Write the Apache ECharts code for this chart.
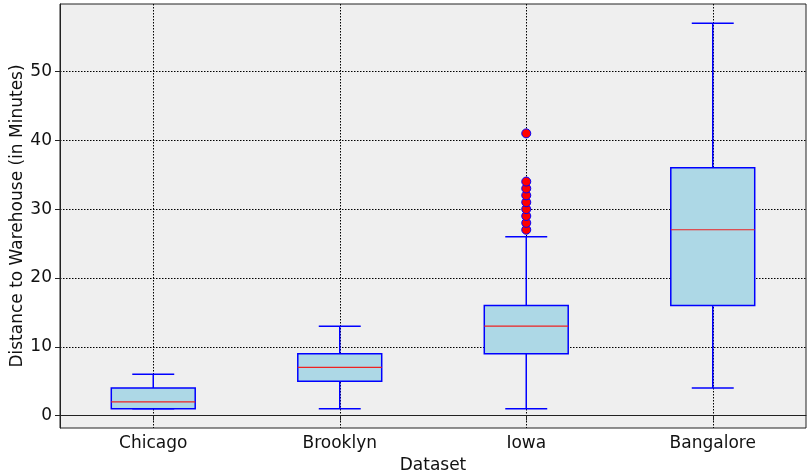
<!DOCTYPE html>
<html><head><meta charset="utf-8">
<script src="https://cdn.jsdelivr.net/npm/echarts@6/dist/echarts.min.js"></script>
<style>html,body{margin:0;padding:0;background:#fff}#chart{width:807px;height:476px}</style>
</head><body><div id="chart"></div>
<script>
// Box statistics per dataset (minutes)
const categories = ['Chicago', 'Brooklyn', 'Iowa', 'Bangalore'];
const whiskerLow = [1, 1, 1, 4];
const q1 = [1, 5, 9, 16];
const median = [2, 7, 13, 27];
const q3 = [4, 9, 16, 36];
const whiskerHigh = [6, 13, 26, 57];
// Outliers: dataset index + value
const outlierCategory = [2, 2, 2, 2, 2, 2, 2, 2, 2];
const outlierValues = [27, 28, 29, 30, 31, 32, 33, 34, 41];
const yTicks = [0, 10, 20, 30, 40, 50];
const xTicks = [1, 2, 3, 4];

const FONT = 'DejaVu Sans';
const boxData = categories.map((c, i) => [i + 1, whiskerLow[i], q1[i], median[i], q3[i], whiskerHigh[i]]);
const outlierData = outlierValues.map((v, i) => [outlierCategory[i] + 1, v]);

function renderBox(params, api) {
  const x = api.value(0);
  const pLo = api.coord([x, api.value(1)]);
  const pQ1 = api.coord([x, api.value(2)]);
  const pMed = api.coord([x, api.value(3)]);
  const pQ3 = api.coord([x, api.value(4)]);
  const pHi = api.coord([x, api.value(5)]);
  const unit = api.size([1, 0])[0];
  const bw = unit * 0.45;
  const cw = bw * 0.5;
  const cx = pLo[0];
  const blue = { stroke: '#0000ff', lineWidth: 1.5, fill: null };
  return {
    type: 'group',
    children: [
      { type: 'line', shape: { x1: cx, y1: pLo[1], x2: cx, y2: pQ1[1] }, style: blue },
      { type: 'line', shape: { x1: cx, y1: pQ3[1], x2: cx, y2: pHi[1] }, style: blue },
      { type: 'line', shape: { x1: cx - cw / 2, y1: pLo[1], x2: cx + cw / 2, y2: pLo[1] }, style: blue },
      { type: 'line', shape: { x1: cx - cw / 2, y1: pHi[1], x2: cx + cw / 2, y2: pHi[1] }, style: blue },
      { type: 'rect', shape: { x: cx - bw / 2, y: pQ3[1], width: bw, height: pQ1[1] - pQ3[1] },
        style: { fill: '#add8e6', stroke: '#0000ff', lineWidth: 1.5 } },
      { type: 'line', shape: { x1: cx - bw / 2, y1: pMed[1], x2: cx + bw / 2, y2: pMed[1] },
        style: { stroke: '#ee2222', lineWidth: 1.2 } }
    ]
  };
}

const chart = echarts.init(document.getElementById('chart'));
chart.setOption({
  animation: false,
  grid: { left: 60, right: 1, top: 4, bottom: 48, show: true, backgroundColor: '#efefef',
          borderColor: '#222', borderWidth: 1, outerBoundsMode: 'none', containLabel: false },
  xAxis: {
    type: 'value', min: 0.5, max: 4.5,
    name: 'Dataset', nameLocation: 'middle', nameGap: 27,
    nameTextStyle: { fontFamily: FONT, fontSize: 17, color: '#111' },
    axisLine: { show: true, lineStyle: { color: '#222' } },
    axisTick: { show: true, length: 5, customValues: xTicks, lineStyle: { color: '#222' } },
    axisLabel: { customValues: xTicks, formatter: v => categories[v - 1], margin: 7,
                 fontFamily: FONT, fontSize: 17, color: '#111' },
    splitLine: { show: true, lineStyle: { color: '#000', type: [1.5, 1.5], width: 1 } }
  },
  yAxis: {
    type: 'value', min: -1.8, max: 59.8,
    name: 'Distance to Warehouse (in Minutes)', nameLocation: 'middle', nameGap: 34,
    nameMoveOverlap: false,
    nameTextStyle: { fontFamily: FONT, fontSize: 17, color: '#111' },
    axisLine: { show: true, lineStyle: { color: '#222' } },
    axisTick: { show: true, length: 5, customValues: yTicks, lineStyle: { color: '#222' } },
    axisLabel: { customValues: yTicks, margin: 8, fontFamily: FONT, fontSize: 17, color: '#111' },
    splitLine: { show: true, lineStyle: { color: '#000', type: [1.5, 1.5], width: 1 } }
  },
  series: [
    { type: 'custom', renderItem: renderBox, data: boxData, encode: { x: 0, y: [1, 2, 3, 4, 5] }, z: 3 },
    { type: 'scatter', data: outlierData, symbol: 'circle', symbolSize: 9, z: 4,
      itemStyle: { color: '#ff0000', borderColor: '#0000ff', borderWidth: 1, opacity: 1 } }
  ]
});
</script>
</body></html>
